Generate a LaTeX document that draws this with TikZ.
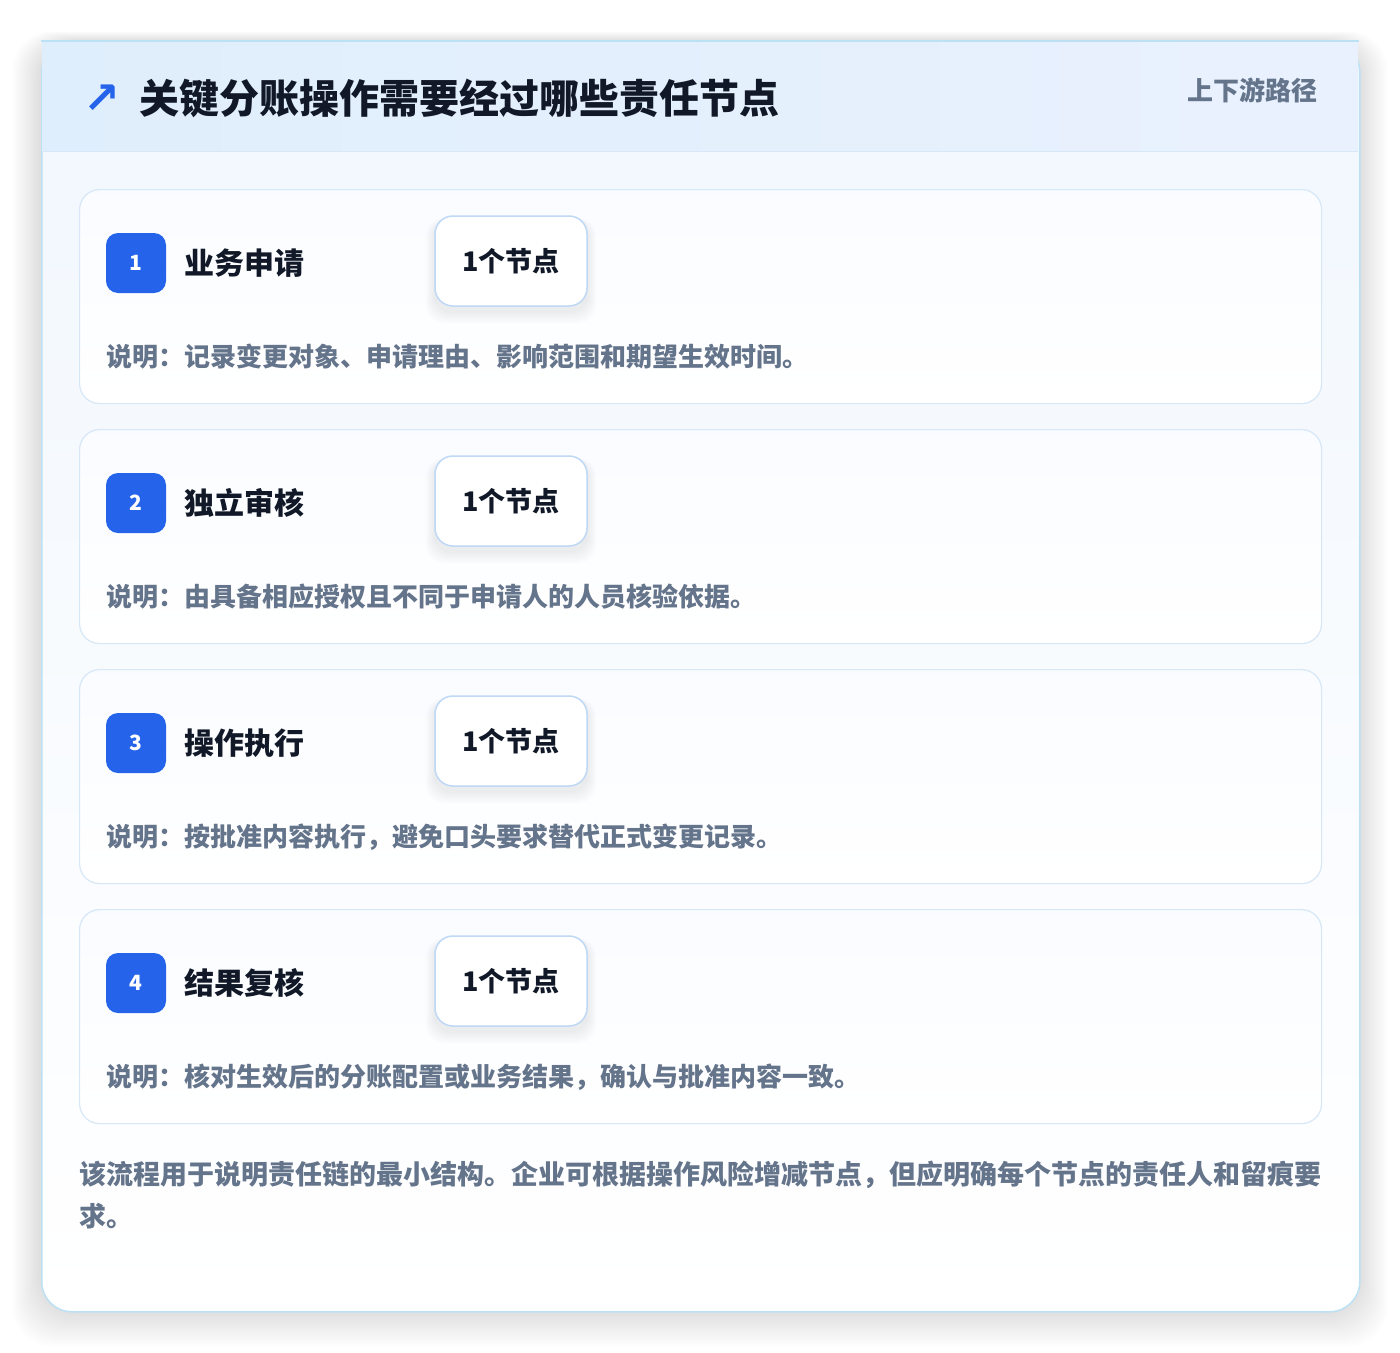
\documentclass[tikz,border=0pt]{standalone}
\usepackage{fontspec}
\setmainfont{Noto Sans CJK SC}
\newfontfamily\heavyfont{Noto Sans CJK SC Black}
\newfontfamily\symfont{DejaVu Sans}
\definecolor{brandblue}{HTML}{2563EB}
\definecolor{ink}{HTML}{111827}
\definecolor{slate}{HTML}{64748B}
\definecolor{cardline}{HTML}{D7E7F7}
\definecolor{pillline}{HTML}{BFD8F6}
\definecolor{outerline}{HTML}{BCE0F4}
\definecolor{headleft}{HTML}{DFEEFC}
\definecolor{headright}{HTML}{EAF1FE}
\definecolor{bodytop}{HTML}{F1F7FE}

\begin{document}
\begin{tikzpicture}[x=1pt,y=-1pt]
  \tikzset{
    stepcard/.style={draw=cardline, line width=1.2pt, top color=white!60!bodytop, bottom color=white,
      rounded corners=20pt, minimum width=1242pt, minimum height=214pt, anchor=north west, inner sep=0pt},
    badge/.style={fill=brandblue, rounded corners=12pt, minimum width=60pt, minimum height=60pt,
      text=white, font=\heavyfont\fontsize{21}{24}\selectfont, inner sep=0pt},
    steptitle/.style={anchor=west, inner sep=0pt, text=ink, font=\heavyfont\fontsize{30}{36}\selectfont},
    countpill/.style={draw=pillline, line width=1.5pt, fill=white, rounded corners=18pt,
      minimum width=152pt, minimum height=90pt, text=ink, font=\heavyfont\fontsize{27}{32}\selectfont},
    note/.style={anchor=west, inner sep=0pt, text=slate, font=\bfseries\fontsize{26}{30}\selectfont},
  }
  \useasboundingbox[fill=white] (0,0) rectangle (1400,1352);
  \foreach \s in {1,...,16}
    \fill[black, opacity=0.007, rounded corners=40pt] ({41-\s*1.8},{41-\s*0.6}) rectangle ({1359+\s*1.8},{1311+\s*2.2});
  \node[draw=outerline, line width=1.5pt, top color=bodytop, bottom color=white, rounded corners=30pt,
    minimum width=1318pt, minimum height=1270pt, anchor=north west, inner sep=0pt] (frame) at (41,41) {};
  \shade[left color=headleft, right color=headright] (42,42) rectangle (1358,151);
  \draw[cardline, line width=1pt] (42,151) -- (1358,151);
  \draw[outerline, line width=1.5pt] (41,41) -- (1359,41);
  \node[anchor=center, inner sep=0pt, text=brandblue, font=\symfont\bfseries\fontsize{44}{46}\selectfont] (icon) at (102,99) {↗};
  \node[anchor=west, inner sep=0pt, text=ink, font=\heavyfont\fontsize{40}{46}\selectfont] (heading) at (139,98) {关键分账操作需要经过哪些责任节点};
  \node[anchor=east, inner sep=0pt, text=slate, font=\bfseries\fontsize{26}{30}\selectfont] (scope) at (1318,90) {上下游路径};
  \foreach \name/\desc [count=\i] in {
      业务申请/说明：记录变更对象、申请理由、影响范围和期望生效时间。,
      独立审核/说明：由具备相应授权且不同于申请人的人员核验依据。,
      操作执行/说明：按批准内容执行，避免口头要求替代正式变更记录。,
      结果复核/说明：核对生效后的分账配置或业务结果，确认与批准内容一致。} {
    \pgfmathsetmacro\top{189+240*(\i-1)}
    \node[stepcard] (card\i) at (79,\top) {};
    \node[badge] (badge\i) at (136,\top+74) {\i};
    \node[steptitle] (title\i) at (184,\top+74) {\name};
    \foreach \s in {1,...,6}
      \fill[black, opacity=0.010, rounded corners=18pt] ({435-\s*1.5},{\top+28-\s*0.5+4}) rectangle ({587+\s*1.5},{\top+118+\s*2+4});
    \node[countpill] (pill\i) at (511,\top+72) {1个节点};
    \node[note] (note\i) at (106,\top+168) {\desc};
  }
  \node[anchor=north west, inner sep=0pt, text width=1250pt, align=left, text=slate,
    font=\bfseries\fontsize{27}{42}\selectfont] (footer) at (79,1161)
    {该流程用于说明责任链的最小结构。企业可根据操作风险增减节点，但应明确每个节点的责任人和留痕要\\求。};
\end{tikzpicture}
\end{document}
